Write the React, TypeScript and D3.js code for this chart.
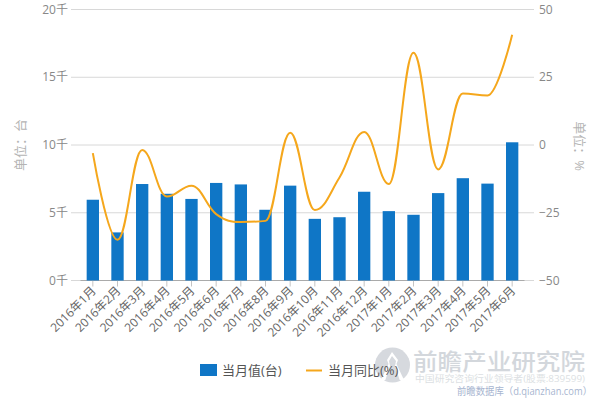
import * as d3 from "d3";

const months = [
  "2016年1月", "2016年2月", "2016年3月", "2016年4月", "2016年5月", "2016年6月",
  "2016年7月", "2016年8月", "2016年9月", "2016年10月", "2016年11月", "2016年12月",
  "2017年1月", "2017年2月", "2017年3月", "2017年4月", "2017年5月", "2017年6月",
];
const monthly = [5960, 3550, 7120, 6400, 6020, 7200, 7090, 5220, 7000, 4550, 4670, 6550, 5120, 4850, 6450, 7550, 7150, 10200];
const yoy = [-3, -35, -1.8, -19, -15, -25.5, -28.4, -28, 4.5, -24, -12, 4.8, -14.4, 34, -9, 19, 18.3, 40.7];
const leftTicks = [0, 5000, 10000, 15000, 20000];
const rightTicks = [-50, -25, 0, 25, 50];

const font = "'Open Sans', 'Noto Sans CJK SC', sans-serif";
const width = 600;
const height = 400;
const plotTop = 9.5;
const plotBottom = 280.5;

const x = d3.scaleBand().domain(months).range([80.5, 524.5]).paddingInner(0.5).paddingOuter(0.25);
const yLeft = d3.scaleLinear().domain([0, 20000]).range([plotBottom, plotTop]);
const yRight = d3.scaleLinear().domain([-50, 50]).range([plotBottom, plotTop]);

// spline with the control points clamped at local extremes, so peaks stay flat
function splinePath(pts: [number, number][]) {
  const p = d3.path();
  const k = 0.4;
  const ctrl = pts.map(([px, py], i) => {
    const prev = pts[i - 1];
    const next = pts[i + 1];
    if (!prev || !next) return { lx: px, ly: py, rx: px, ry: py };
    const lx = px - k * (px - prev[0]);
    const rx = px + k * (next[0] - px);
    let ly = py - k * (py - prev[1]);
    let ry = py + k * (next[1] - py);
    const shift = ((ry - ly) * (rx - px)) / (rx - lx) + py - ry;
    ly += shift;
    ry += shift;
    if (ly > Math.max(prev[1], py)) {
      ly = Math.max(prev[1], py);
      ry = 2 * py - ly;
    } else if (ly < Math.min(prev[1], py)) {
      ly = Math.min(prev[1], py);
      ry = 2 * py - ly;
    }
    if (ry > Math.max(next[1], py)) {
      ry = Math.max(next[1], py);
      ly = 2 * py - ry;
    } else if (ry < Math.min(next[1], py)) {
      ry = Math.min(next[1], py);
      ly = 2 * py - ry;
    }
    return { lx, ly, rx, ry };
  });
  pts.forEach(([px, py], i) => {
    if (i === 0) p.moveTo(px, py);
    else p.bezierCurveTo(ctrl[i - 1].rx, ctrl[i - 1].ry, ctrl[i].lx, ctrl[i].ly, px, py);
  });
  return p.toString();
}

const linePoints = yoy.map((v, i): [number, number] => [x(months[i])! + x.bandwidth() / 2, yRight(v)]);

export default function App() {
  return (
    <svg
      width={width}
      height={height}
      viewBox={`0 0 ${width} ${height}`}
      style={{ position: "fixed", left: 0, top: 0, background: "#fff", fontFamily: font }}
    >
      {/* watermark */}
      <g>
        <circle cx={392.5} cy={365} r={17.5} fill="#d6d9de" />
        <path d="M392 352 L387 360 L388.5 364 L381 380 L404 380 L396.5 364 L398 360 Z" fill="#fff" />
        <path d="M392 356 L389 361 L390 366 L385 381 L400 381 L395 366 L396 361 Z" fill="#d6d9de" />
        <text x={413} y={370} fontSize={23} fontWeight={500} fill="#d3d7dc" textLength={172} lengthAdjust="spacingAndGlyphs">前瞻产业研究院</text>
        <text x={415} y={382} fontSize={9} fill="#dcdfe3" textLength={170} lengthAdjust="spacingAndGlyphs">中国研究咨询行业领导者(股票:839599)</text>
        <text x={457} y={395} fontSize={10} fill="#a7b5d0" textLength={135} lengthAdjust="spacingAndGlyphs">前瞻数据库（d.qianzhan.com）</text>
      </g>

      {/* grid */}
      {leftTicks.map((t) => (
        <line key={t} x1={71} x2={534} y1={yLeft(t)} y2={yLeft(t)} stroke="#d8d8d8" strokeWidth={1} />
      ))}
      <line x1={80.5} x2={524.5} y1={plotBottom} y2={plotBottom} stroke="#aaaaaa" strokeWidth={1} />
      {months.map((m) => (
        <line
          key={m}
          x1={x(m)! + x.bandwidth() / 2}
          x2={x(m)! + x.bandwidth() / 2}
          y1={plotBottom}
          y2={plotBottom + 6}
          stroke="#c4c4c4"
        />
      ))}

      {/* bars */}
      {monthly.map((v, i) => (
        <rect
          key={months[i]}
          x={x(months[i])!}
          y={yLeft(v)}
          width={x.bandwidth()}
          height={plotBottom - yLeft(v)}
          fill="#0f76c6"
        />
      ))}

      <path d={splinePath(linePoints)} fill="none" stroke="#f5a71c" strokeWidth={2} />

      {/* left axis */}
      {leftTicks.map((t) => (
        <text key={t} x={68} y={yLeft(t) + 4} textAnchor="end" fontSize={12} fill="#888">
          {t / 1000}千
        </text>
      ))}
      {/* right axis */}
      {rightTicks.map((t) => (
        <text key={t} x={539} y={yRight(t) + 4} fontSize={12} fill="#888">
          {t < 0 ? `−${-t}` : t}
        </text>
      ))}
      {/* month labels */}
      {months.map((m) => (
        <text
          key={m}
          transform={`translate(${x(m)! + x.bandwidth() / 2 + 4},${plotBottom + 11}) rotate(-45)`}
          textAnchor="end"
          fontSize={12}
          fill="#666"
        >
          {m}
        </text>
      ))}

      <text transform="translate(21,145) rotate(-90)" dy={4} textAnchor="middle" fontSize={13} fill="#b4b4b4">单位：台</text>
      <text transform="translate(579,146) rotate(90)" dy={4} textAnchor="middle" fontSize={13} fill="#b4b4b4">单位：%</text>

      {/* legend */}
      <rect x={200} y={364} width={17} height={12} fill="#0f76c6" />
      <text x={222} y={375} fontSize={13} fill="#555">当月值(台)</text>
      <line x1={306} x2={322} y1={370.5} y2={370.5} stroke="#f5a71c" strokeWidth={2} />
      <text x={328} y={375} fontSize={13} fill="#555">当月同比(%)</text>
    </svg>
  );
}
